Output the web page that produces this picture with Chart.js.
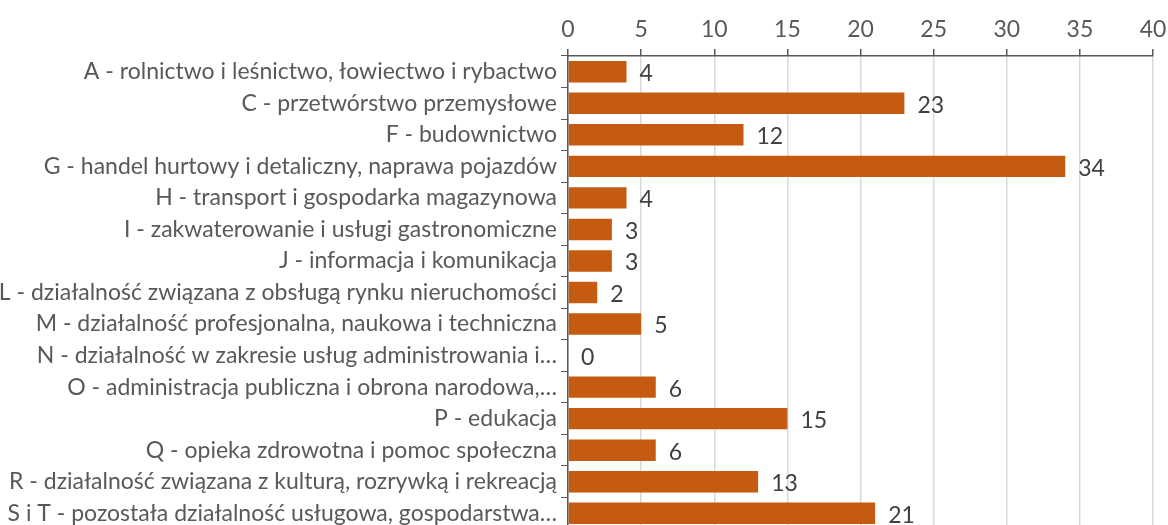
<!DOCTYPE html>
<html>
<head>
<meta charset="utf-8">
<script src="https://cdn.jsdelivr.net/npm/chart.js@4"></script>
<style>
  html, body { margin: 0; padding: 0; background: #fff; overflow: hidden; }
  #wrap { width: 1168px; height: 529px; }
</style>
</head>
<body>
<div id="wrap"><canvas id="chart" width="1168" height="529"></canvas></div>
<script>
const categories = [
  "A - rolnictwo i leśnictwo, łowiectwo i rybactwo",
  "C - przetwórstwo przemysłowe",
  "F - budownictwo",
  "G - handel hurtowy i detaliczny, naprawa pojazdów",
  "H - transport i gospodarka magazynowa",
  "I - zakwaterowanie i usługi gastronomiczne",
  "J - informacja i komunikacja",
  "L - działalność związana z obsługą rynku nieruchomości",
  "M - działalność profesjonalna, naukowa i techniczna",
  "N - działalność w zakresie usług administrowania i…",
  "O - administracja publiczna i obrona narodowa,…",
  "P - edukacja",
  "Q - opieka zdrowotna i pomoc społeczna",
  "R - działalność związana z kulturą, rozrywką i rekreacją",
  "S i T - pozostała działalność usługowa, gospodarstwa…"
];
const values = [4, 23, 12, 34, 4, 3, 3, 2, 5, 0, 6, 15, 6, 13, 21];
const xMin = 0, xMax = 40, xStep = 5;

const FONT = "Lato, 'Open Sans', sans-serif";
const FS = 23;

const valueLabels = {
  id: "valueLabels",
  afterDatasetsDraw(chart) {
    const ctx = chart.ctx;
    const meta = chart.getDatasetMeta(0);
    ctx.save();
    ctx.font = FS + "px " + FONT;
    ctx.fillStyle = "#404040";
    ctx.textAlign = "left";
    ctx.textBaseline = "middle";
    meta.data.forEach((bar, i) => {
      ctx.fillText(String(values[i]), bar.x + 13, bar.y + 2);
    });
    ctx.restore();
  }
};

new Chart(document.getElementById("chart").getContext("2d"), {
  type: "bar",
  data: {
    labels: categories,
    datasets: [{
      data: values,
      backgroundColor: "#C55A11",
      borderWidth: 0,
      barPercentage: 0.68,
      categoryPercentage: 1
    }]
  },
  options: {
    indexAxis: "y",
    responsive: false,
    animation: false,
    layout: { padding: { top: 0, right: 15, bottom: 0, left: 0 } },
    plugins: { legend: { display: false }, tooltip: { enabled: false } },
    scales: {
      x: {
        position: "top",
        min: xMin,
        max: xMax,
        ticks: { stepSize: xStep, color: "#595959", font: { family: FONT, size: FS }, padding: 6 },
        grid: { color: "#D9D9D9", lineWidth: 1.5, tickColor: "#595959", tickLength: 7 },
        border: { display: true, color: "#595959", width: 1.5 },
        afterFit: s => { s.height = 56; s.paddingLeft = 0; s.paddingRight = 0; }
      },
      y: {
        ticks: { color: "#595959", font: { family: FONT, size: FS }, padding: 4, autoSkip: false },
        grid: { offset: true, drawOnChartArea: false, tickColor: "#595959", tickLength: 7 },
        border: { display: true, color: "#595959", width: 1.5 },
        afterFit: s => { s.width = 568; s.paddingTop = 0; s.paddingBottom = 0; }
      }
    }
  },
  plugins: [valueLabels]
});
</script>
</body>
</html>
